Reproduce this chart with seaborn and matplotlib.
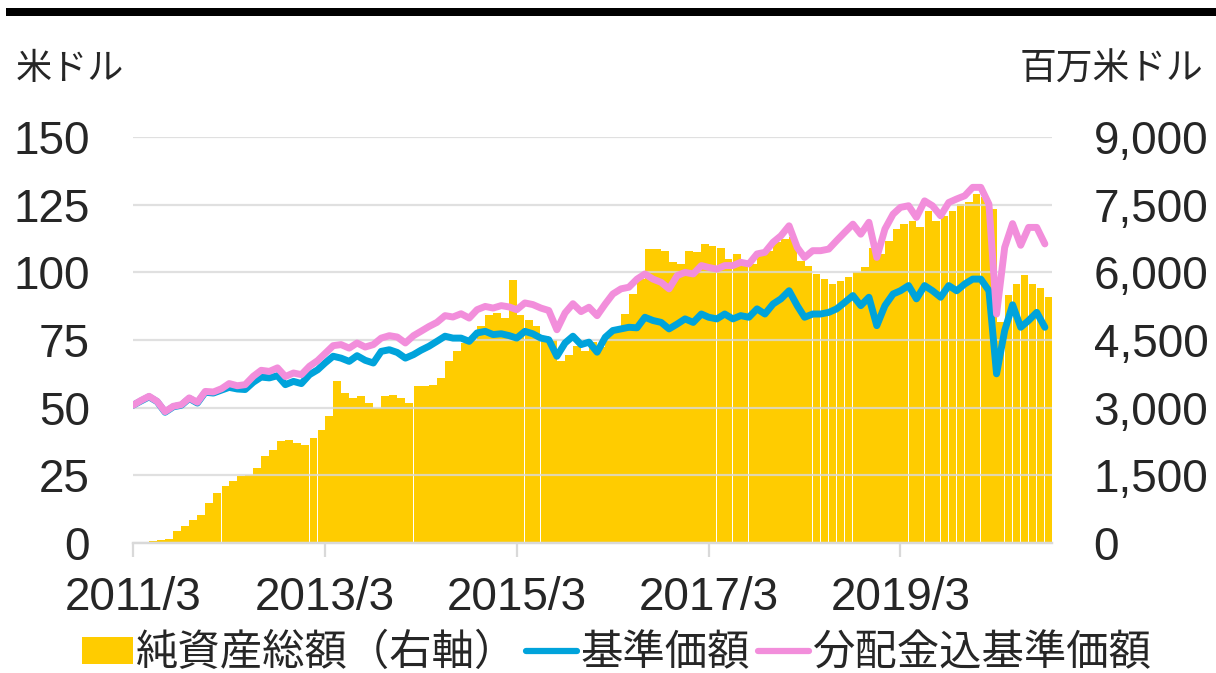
import matplotlib
matplotlib.use('Agg')
import matplotlib.pyplot as plt
import matplotlib.ticker as mticker
from matplotlib.patches import Patch, Rectangle
from matplotlib.lines import Line2D
import seaborn as sns
import pandas as pd

# ── Data (monthly, 2011/3 – 2020/9) ───────────────────────────
months = pd.date_range('2011-03-01', periods=115, freq='MS')

# 純資産総額 (百万米ドル, right axis)
net_assets = [
    20, 30, 45, 75, 95,
    260, 370, 520, 630, 890, 1110, 1270, 1370, 1480, 1515,
    1660, 1920, 2070, 2250, 2275, 2215, 2180, 2330, 2510, 2810,
    3580, 3325, 3215, 3265, 3100, 2990, 3250, 3290, 3215, 3100,
    3470, 3470, 3510, 3660, 4030, 4250, 4430, 4510, 4800, 5060,
    5100, 4990, 5840, 5060, 4950, 4800, 4580, 4510, 4030, 4170, 4360, 4250,
    4450, 4340, 4600, 4745, 5080, 5520, 5850,
    6520, 6520, 6480, 6220, 6185, 6480, 6440, 6630, 6590, 6550,
    6295, 6405, 6185, 6185, 6405, 6480, 6665, 6740, 6775,
    6260, 6150, 5960, 5850, 5740, 5815, 5890, 6000, 6110, 6550,
    6400, 6700, 6960, 7070, 7145, 7000, 7365, 7145, 7255, 7365,
    7510, 7550, 7735, 7660,
    7400, 4900, 5500, 5750, 5950, 5750, 5650, 5450,
]

# 基準価額 (米ドル)
nav = [
    50.9, 52.5, 54.0, 52.2, 48.3, 50.3, 50.9, 53.4, 51.7, 55.7,
    55.4, 56.5, 57.5, 56.9, 56.7, 59.4, 61.3, 61.0, 61.8, 58.5,
    59.7, 58.9, 62.2, 64.0, 66.5, 69.0, 68.3, 67.1, 69.2, 67.5,
    66.5, 70.8, 71.4, 70.4, 68.3, 69.6, 71.2, 72.7, 74.5, 76.4,
    75.7, 75.7, 74.5, 77.6, 78.2, 77.0, 77.3, 76.6, 75.7, 78.2,
    77.3, 75.7, 75.1, 69.0, 73.9, 76.4, 73.3, 74.2, 70.5, 76.0,
    78.5, 79.1, 79.7, 79.5, 83.4, 82.2, 81.5, 79.1, 80.9, 82.8,
    81.5, 84.6, 83.4, 82.8, 84.6, 82.8, 84.0, 83.4, 86.5, 84.6,
    88.3, 90.2, 93.2, 87.7, 83.4, 84.6, 84.6, 85.2, 86.5, 88.9,
    91.4, 87.7, 90.8, 80.3, 87.7, 92.0, 93.2, 95.1, 90.2, 95.1,
    93.2, 90.8, 95.1, 93.2, 95.7, 97.5, 97.5, 93.2, 62.5, 78.5,
    88.0, 79.7, 82.2, 85.2, 79.7,
]

# 分配金込基準価額 (米ドル)
nav_div = [
    50.9, 52.7, 54.2, 52.3, 48.5, 50.5, 51.1, 53.6, 52.0, 56.0,
    55.8, 57.0, 58.9, 58.1, 58.5, 61.6, 63.8, 63.4, 64.7, 61.5,
    62.8, 62.2, 65.3, 67.4, 70.0, 72.9, 73.3, 72.0, 73.9, 72.4,
    73.3, 75.7, 76.6, 76.1, 73.9, 76.6, 78.2, 80.0, 81.5, 84.0,
    83.5, 84.7, 83.1, 86.2, 87.4, 86.8, 87.7, 87.2, 86.2, 88.7,
    88.1, 86.8, 85.9, 78.8, 85.0, 88.4, 85.5, 87.1, 84.0, 88.3,
    92.0, 93.9, 94.5, 97.5, 99.4, 97.5, 96.3, 93.9, 98.8, 100.0,
    99.4, 102.5, 101.8, 101.2, 102.5, 102.5, 103.7, 103.1, 106.8, 107.4,
    111.1, 113.5, 117.2, 109.2, 105.5, 108.0, 108.0, 108.6, 111.7, 114.8,
    117.8, 114.1, 118.5, 105.5, 116.0, 121.5, 124.0, 124.6, 120.3, 126.4,
    124.6, 120.9, 125.8, 127.1, 128.3, 131.4, 131.4, 125.2, 84.6, 109.2,
    118.0, 110.0, 116.6, 116.6, 110.5,
]

tick_dates  = pd.to_datetime(['2011-03-01', '2013-03-01', '2015-03-01',
                              '2017-03-01', '2019-03-01'])
tick_labels = ['2011/3', '2013/3', '2015/3', '2017/3', '2019/3']

df = pd.DataFrame({'date': months, 'assets': net_assets,
                   'nav': nav, 'nav_div': nav_div})

YELLOW = '#FFCC00'
BLUE   = '#00A3DB'
PINK   = '#F28EDB'
GRID   = '#D9D9D9'

# ── Style ─────────────────────────────────────────────────────
sns.set_theme(style='white')
plt.rcParams['font.family'] = ['Liberation Sans', 'Noto Sans CJK JP', 'DejaVu Sans']

fig = plt.figure(figsize=(12.16, 6.73), dpi=100)
fig.subplots_adjust(left=0.1094, right=0.8651, bottom=0.1932, top=0.7964)
ax = fig.add_subplot(111)
ax2 = ax.twinx()
ax.set_zorder(ax2.get_zorder() + 1)
ax.patch.set_visible(False)

# bars (right axis)
ax2.bar(df['date'], df['assets'], width=29.5, align='edge',
        color=YELLOW, linewidth=0, zorder=1)
ax2.set_ylim(0, 9000)
ax2.set_yticks(range(0, 9001, 1500))
ax2.yaxis.set_major_formatter(mticker.FuncFormatter(lambda v, p: f'{int(v):,}'))

# lines (left axis)
sns.lineplot(data=df, x='date', y='nav', ax=ax, color=BLUE, linewidth=5)
sns.lineplot(data=df, x='date', y='nav_div', ax=ax, color=PINK, linewidth=5)
ax.set_ylim(0, 150)
ax.set_yticks(range(0, 151, 25))
ax.set_xlim(pd.Timestamp('2011-03-01'), pd.Timestamp('2020-09-28'))
ax.set_xticks(tick_dates)
ax.set_xticklabels(tick_labels)
ax.set_xlabel('')
ax.set_ylabel('')

ax.yaxis.grid(True, color=GRID, linewidth=1.6, alpha=0.8)
ax.xaxis.grid(False)
for a in (ax, ax2):
    for s in ('top', 'left', 'right'):
        a.spines[s].set_visible(False)
    a.spines['bottom'].set_color(GRID)
    a.spines['bottom'].set_linewidth(1.6)

ax.tick_params(axis='x', length=10, width=1.6, color=GRID, pad=14,
               labelsize=33, direction='out', bottom=True)
ax.tick_params(axis='y', length=0, pad=31, labelsize=33)
ax2.tick_params(axis='y', length=0, pad=30, labelsize=33)

# axis unit labels
fig.text(16 / 1216, 1 - 70 / 673, '米ドル', fontsize=26, ha='left', va='center')
fig.text(1203 / 1216, 1 - 70 / 673, '百万米ドル', fontsize=26.5, ha='right', va='center')

# top black rule
fig.patches.append(Rectangle((6 / 1216, 1 - 16 / 673), 1 - 6 / 1216, 8 / 673,
                             transform=fig.transFigure, color='black',
                             linewidth=0))

# legend
handles = [Patch(facecolor=YELLOW, edgecolor='none'),
           Line2D([], [], color=BLUE, linewidth=4.5),
           Line2D([], [], color=PINK, linewidth=4.5)]
labels = ['純資産総額（右軸）', '基準価額', '分配金込基準価額']
fig.legend(handles, labels, loc='center', bbox_to_anchor=(0.507, 0.028),
           ncol=3, frameon=False, fontsize=30.5, handlelength=1.2,
           handleheight=0.6, handletextpad=0.08, columnspacing=0.2,
           borderaxespad=0, borderpad=0)

fig.savefig('out.png', dpi=100)
